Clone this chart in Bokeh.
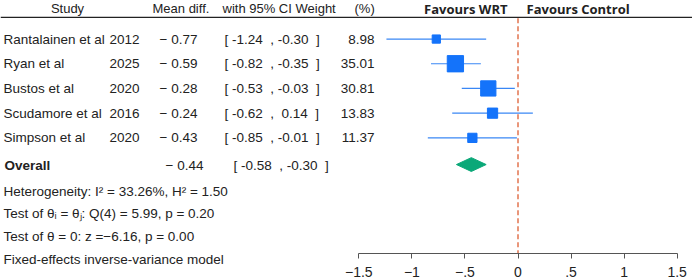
import math
from bokeh.plotting import figure
from bokeh.models import Range1d, FixedTicker, Span
from bokeh.core.properties import value
from bokeh.embed import file_html
from bokeh.resources import INLINE

# ---- data ----
studies = ["Rantalainen et al", "Ryan et al", "Bustos et al", "Scudamore et al", "Simpson et al"]
years = ["2012", "2025", "2020", "2016", "2020"]
mean_diff = [-0.77, -0.59, -0.28, -0.24, -0.43]
ci_low = [-1.24, -0.82, -0.53, -0.62, -0.85]
ci_high = [-0.30, -0.35, -0.03, 0.14, -0.01]
weights = [8.98, 35.01, 30.81, 13.83, 11.37]
overall_md = -0.44
overall_low = -0.58
overall_high = -0.30
headers = ["Study", "Mean diff.", "with 95% CI", "Weight", "(%)"]
footer_lines = [
    "Heterogeneity: I\u00b2 = 33.26%, H\u00b2 = 1.50",
    "Test of \u03b8\u1d62 = \u03b8\u2c7c: Q(4) = 5.99, p = 0.20",
    "Test of \u03b8 = 0: z =\u22126.16, p = 0.00",
    "Fixed-effects inverse-variance model",
]
tick_values = [-1.5, -1, -0.5, 0, 0.5, 1, 1.5]
tick_labels = ["\u22121.5", "\u22121", "\u2212.5", "0", ".5", "1", "1.5"]

# ---- layout helpers ----
W, H = 692, 279
ZERO_PX, SCALE = 517.5, 106.1
FRAME_H = 256


def px(xp):
    return (xp - ZERO_PX) / SCALE


FONT = value("Liberation Sans")
FS = "13.5px"
HFS = "13px"

p = figure(width=W, height=H, output_backend="svg", toolbar_location=None,
           x_range=Range1d(px(0), px(W)), y_range=Range1d(FRAME_H, 0),
           y_axis_type=None, min_border=0, min_border_bottom=H - FRAME_H,
           outline_line_color=None)
p.xgrid.visible = False
p.ygrid.visible = False
p.background_fill_color = "white"
p.border_fill_color = "white"

ax = p.xaxis[0]
ax.ticker = FixedTicker(ticks=tick_values)
ax.major_label_overrides = {v: l for v, l in zip(tick_values, tick_labels)}
ax.bounds = (-1.5, 1.5)
ax.major_tick_in = 0
ax.major_tick_out = 5
ax.minor_tick_line_color = None
ax.major_label_standoff = 8
ax.axis_line_color = "#555555"
ax.major_tick_line_color = "#555555"
ax.major_label_text_font = "Liberation Sans"
ax.major_label_text_font_size = "14px"
ax.major_label_text_color = "#222222"

# header
HEADER_Y = 8
p.add_layout(Span(location=17, dimension="width", line_color="#222222", line_width=1.2))
p.text(x=[px(67)], y=[HEADER_Y], text=headers[:1], text_font=FONT,
       text_font_size=HFS, text_align="center", text_baseline="middle", text_color="#222222",
       level="overlay")
p.text(x=[px(152), px(222), px(295), px(354)], y=[HEADER_Y] * 4, text=headers[1:], text_font=FONT,
       text_font_size=HFS, text_align="left", text_baseline="middle", text_color="#222222",
       level="overlay")
p.text(x=[px(507)], y=[HEADER_Y + 1], text=["Favours WRT"], text_font=value("Open Sans"),
       text_font_size="13px", text_font_style="bold", text_align="right", text_baseline="middle",
       text_color="#222222", level="overlay")
p.text(x=[px(526)], y=[HEADER_Y + 1], text=["Favours Control"], text_font=value("Open Sans"),
       text_font_size="13px", text_font_style="bold", text_align="left", text_baseline="middle",
       text_color="#222222", level="overlay")

# rows
n = len(studies)
row_y = [39 + 25 * i for i in range(n)]


def fmt_md(v):
    return ("\u2212\u00a0" if v < 0 else "") + f"{abs(v):.2f}"


def fmt_ci(a, b):
    sa = f"{a:.2f}" if a < 0 else f"\u00a0{a:.2f}"
    sb = f"{b:.2f}" if b < 0 else f"\u00a0{b:.2f}"
    return f"[ {sa}\u00a0 , {sb}\u00a0 ]"


md_txt = [fmt_md(v) for v in mean_diff]
ci_txt = [fmt_ci(a, b) for a, b in zip(ci_low, ci_high)]
w_txt = [f"{w:.2f}" for w in weights]

common = dict(text_font=FONT, text_font_size=FS, text_baseline="middle",
              text_color="#222222", level="overlay")
p.text(x=[px(3)] * n, y=row_y, text=studies, text_align="left", **common)
p.text(x=[px(139)] * n, y=row_y, text=years, text_align="right", **common)
p.text(x=[px(197)] * n, y=row_y, text=md_txt, text_align="right", **common)
p.text(x=[px(224)] * n, y=row_y, text=ci_txt, text_align="left", **common)
p.text(x=[px(374)] * n, y=row_y, text=w_txt, text_align="right", **common)

# CI lines and squares
p.segment(x0=ci_low, x1=ci_high, y0=row_y, y1=row_y, line_color="#3a87f5", line_width=1.2)
p.scatter(x=mean_diff, y=row_y, marker="square", size=[2.75 * math.sqrt(w) for w in weights],
          fill_color="#1473fa", line_color="#1473fa")

# overall
OV_Y = 166
p.text(x=[px(4)], y=[OV_Y + 1], text=["Overall"], text_align="left", text_font_style="bold", **common)
p.text(x=[px(203)], y=[OV_Y + 1], text=[fmt_md(overall_md)], text_align="right", **common)
p.text(x=[px(233)], y=[OV_Y + 1], text=[fmt_ci(overall_low, overall_high)], text_align="left", **common)
dh = 7
p.patch(x=[overall_low, overall_md, overall_high, overall_md],
        y=[OV_Y, OV_Y - dh, OV_Y, OV_Y + dh], fill_color="#0aa878", line_color="#0aa878")

# null line
p.segment(x0=[0], x1=[0], y0=[18], y1=[FRAME_H], line_color="#e2734e",
          line_width=1.5, line_dash="5 3")

# footer
foot_y = [193 + 23 * i for i in range(len(footer_lines))]
p.text(x=[px(3)] * len(footer_lines), y=foot_y, text=footer_lines, text_align="left", **common)

open("out.html", "w").write(file_html(p, INLINE))
